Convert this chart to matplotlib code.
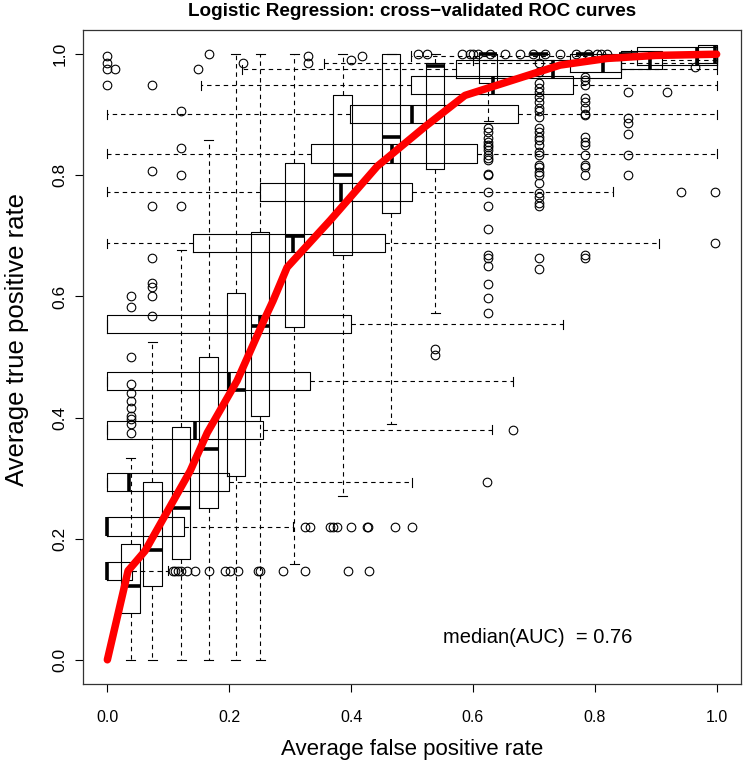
import matplotlib.pyplot as plt
import numpy as np

plt.rcParams['font.family'] = ['Liberation Sans', 'DejaVu Sans']

# ----------------------- averaged ROC curve -----------------------
curve_fpr = [0.0, 0.034, 0.062, 0.136, 0.164, 0.213, 0.259, 0.272, 0.295, 0.366, 0.443,
             0.521, 0.587, 0.743, 0.82, 0.9, 1.0]
curve_tpr = [0.0, 0.147, 0.18, 0.312, 0.375, 0.461, 0.565, 0.593, 0.648, 0.726, 0.815,
             0.88, 0.932, 0.982, 0.993, 0.998, 1.0]

# ----------------------- horizontal boxplots (FPR spread) -----------------------
h_pos = [0.147, 0.22, 0.293, 0.38, 0.46, 0.554, 0.688, 0.773, 0.836, 0.901, 0.949,
         0.975, 0.985, 0.99, 0.997, 1.0]
h_lo = [0.0, 0.0, 0.0, 0.0, 0.0, 0.0, 0.0, 0.0, 0.0, 0.0, 0.154, 0.221, 0.356, 0.6, 0.498, 0.86]
h_q1 = [0.0, 0.0, 0.0, 0.0, 0.0, 0.0, 0.141, 0.251, 0.334, 0.399, 0.498, 0.572, 0.76, 0.843, 0.869, 0.97]
h_med = [0.0, 0.0, 0.035, 0.144, 0.2, 0.251, 0.305, 0.384, 0.467, 0.5, 0.633, 0.731, 0.813, 0.89, 0.967, 0.998]
h_q3 = [0.04, 0.126, 0.2, 0.256, 0.333, 0.4, 0.456, 0.5, 0.606, 0.674, 0.764, 0.843, 0.843, 0.911, 1.0, 1.0]
h_hi = [0.1, 0.305, 0.5, 0.631, 0.666, 0.748, 0.905, 0.83, 1.0, 1.0, 1.0, 1.0, 1.0, 1.0, 1.0, 1.0]
h_out = [
    [0.107, 0.111, 0.116, 0.121, 0.131, 0.144, 0.167, 0.193, 0.202, 0.215, 0.248, 0.251,
     0.289, 0.325, 0.395, 0.43],
    [0.325, 0.333, 0.366, 0.37, 0.377, 0.4, 0.426, 0.428, 0.472, 0.5],
    [0.623],
    [0.666],
    [],
    [],
    [0.997],
    [0.941, 0.997],
    [],
    [],
    [0.0, 0.074],
    [0.0, 0.013, 0.148],
    [0.0, 0.223, 0.33],
    [0.4],
    [0.0, 0.33, 0.418],
    [0.51, 0.525, 0.582, 0.595, 0.6, 0.608, 0.628, 0.652, 0.677, 0.698, 0.718, 0.743,
     0.77, 0.789, 0.803, 0.811, 0.82],
]

# ----------------------- vertical boxplots (TPR spread) -----------------------
v_pos = [0.038, 0.074, 0.121, 0.166, 0.211, 0.251, 0.307, 0.386, 0.466, 0.538, 0.625,
         0.708, 0.784, 0.854, 0.918, 0.964]
v_lo = [0.0, 0.0, 0.0, 0.0, 0.0, 0.0, 0.159, 0.271, 0.39, 0.572, 0.89, 0.99, 1.0, 1.0, 1.0, 1.0]
v_q1 = [0.078, 0.122, 0.167, 0.25, 0.304, 0.403, 0.549, 0.668, 0.737, 0.81, 0.952, 1.0, 1.0, 1.0, 1.0, 1.0]
v_med = [0.122, 0.182, 0.25, 0.348, 0.445, 0.552, 0.699, 0.8, 0.864, 0.98, 1.0, 1.0, 1.0, 1.0, 1.0, 1.0]
v_q3 = [0.192, 0.293, 0.385, 0.5, 0.605, 0.707, 0.82, 0.932, 1.0, 0.985, 1.0, 1.0, 1.0, 1.0, 1.0, 1.0]
v_hi = [0.334, 0.524, 0.676, 0.858, 1.0, 1.0, 1.0, 1.0, 1.0, 1.0, 1.0, 1.0, 1.0, 1.0, 1.0, 1.0]
v_out = [
    [0.375, 0.39, 0.398, 0.403, 0.415, 0.428, 0.44, 0.456, 0.5, 0.583, 0.6],
    [0.567, 0.6, 0.615, 0.623, 0.663, 0.75, 0.807],
    [0.75, 0.8, 0.845, 0.906],
    [1.0],
    [],
    [],
    [],
    [],
    [],
    [0.504, 0.514],
    [0.878, 0.871, 0.861, 0.855, 0.85, 0.846, 0.841, 0.833, 0.828, 0.825, 0.803, 0.8,
     0.772, 0.75, 0.712, 0.668, 0.664, 0.651, 0.621, 0.598, 0.572],
    [0.985, 0.97, 0.952, 0.945, 0.937, 0.929, 0.921, 0.912, 0.907, 0.896, 0.878, 0.871,
     0.863, 0.858, 0.85, 0.838, 0.833, 0.817, 0.813, 0.805, 0.8, 0.787, 0.77, 0.764,
     0.755, 0.75, 0.664, 0.646],
    [0.962, 0.957, 0.949, 0.927, 0.921, 0.911, 0.902, 0.899, 0.863, 0.855, 0.85, 0.833,
     0.817, 0.813, 0.8, 0.668, 0.664],
    [0.937, 0.894, 0.886, 0.869, 0.833, 0.8],
    [0.937],
    [0.979],
]

auc_text = 'median(AUC)  = 0.76'


def make_stats(lo, q1, med, q3, hi, out):
    return [dict(whislo=a, q1=b, med=c, q3=d, whishi=e, fliers=f)
            for a, b, c, d, e, f in zip(lo, q1, med, q3, hi, out)]


# ----------------------- Fig configuration -----------------------
fig = plt.figure(figsize=(7.43, 7.67), dpi=100)
ax = fig.add_axes([0.1117, 0.1082, 0.8856, 0.8527])

lw = 0.8
box_kw = dict(
    widths=0.03,
    capwidths=0.015,
    manage_ticks=False,
    boxprops=dict(color='black', linewidth=lw),
    whiskerprops=dict(color='black', linewidth=lw, linestyle=(0, (4, 3.5))),
    capprops=dict(color='black', linewidth=lw),
    medianprops=dict(color='black', linewidth=2.6, solid_capstyle='butt'),
    flierprops=dict(marker='o', markerfacecolor='none', markeredgecolor='black',
                    markersize=6.2, markeredgewidth=0.8, linestyle='none'),
)

ax.bxp(make_stats(h_lo, h_q1, h_med, h_q3, h_hi, h_out), positions=h_pos,
       orientation='horizontal', **box_kw)
ax.bxp(make_stats(v_lo, v_q1, v_med, v_q3, v_hi, v_out), positions=v_pos,
       orientation='vertical', **box_kw)

ax.plot(curve_fpr, curve_tpr, color='#FF0000', linewidth=5.4, solid_capstyle='round',
        solid_joinstyle='round', zorder=5)

ax.text(0.707, 0.037, auc_text, fontsize=14.5, ha='center', va='center')

ax.set_xlim(-0.04, 1.04)
ax.set_ylim(-0.04, 1.04)
ticks = [0.0, 0.2, 0.4, 0.6, 0.8, 1.0]
ax.set_xticks(ticks)
ax.set_xticklabels(['%.1f' % t for t in ticks])
ax.set_yticks(ticks)
ax.set_yticklabels(['%.1f' % t for t in ticks], rotation=90, va='center')
ax.tick_params(axis='both', direction='out', length=6, width=0.8)
ax.tick_params(axis='x', pad=13, labelsize=11.5)
ax.tick_params(axis='y', pad=5, labelsize=12.5)
for s in ax.spines.values():
    s.set_linewidth(0.9)
    s.set_color('#333333')

fig.text(0.5545, 1 - 12 / 767, 'Logistic Regression: cross\u2212validated ROC curves',
         fontsize=13.6, fontweight='bold', ha='center', va='center')
fig.text(0.5545, 1 - 749 / 767, 'Average false positive rate', fontsize=16,
         ha='center', va='center')
fig.text(17 / 743, 1 - 340 / 767, 'Average true positive rate', fontsize=18.5,
         ha='center', va='center', rotation=90)

plt.savefig('out.png', dpi=100)
